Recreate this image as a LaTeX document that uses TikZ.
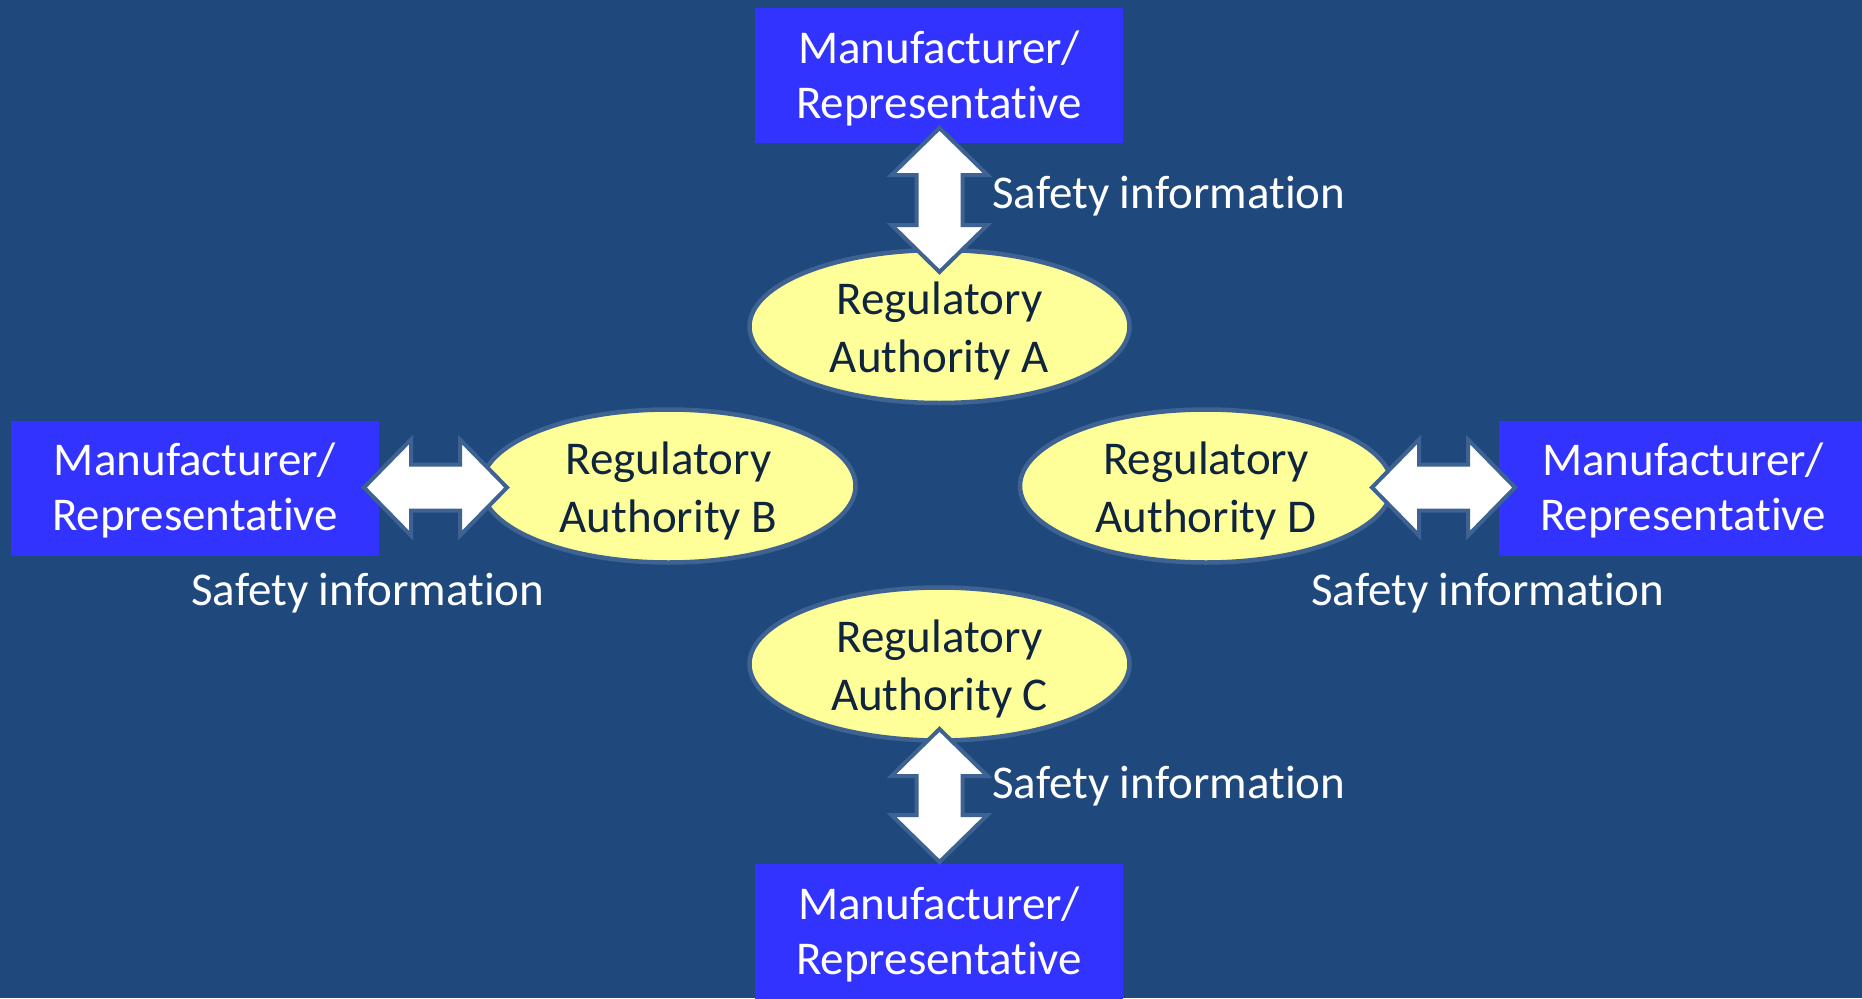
\documentclass[tikz,border=0pt]{standalone}
\usepackage{fontspec}
\setmainfont[Ligatures=NoCommon]{Carlito}
\usetikzlibrary{shapes.geometric}
\definecolor{bgblue}{HTML}{1F497D}
\definecolor{boxblue}{HTML}{3333FF}
\definecolor{ellfill}{HTML}{FFFF99}
\definecolor{outl}{HTML}{3E6291}
\definecolor{etext}{HTML}{0F243E}
\newcommand\toprule[1]{\rule{0pt}{#1}}
\newcommand\botrule{\rule[-12pt]{0pt}{12pt}}
\tikzset{
  mybox/.style={rectangle, fill=boxblue, text=white, minimum width=368pt, minimum height=135pt, inner sep=0pt, align=center, font=\fontsize{47}{55}\selectfont},
  authority/.style={ellipse, fill=ellfill, draw=outl, line width=4.5pt, minimum width=380pt, minimum height=153pt, inner xsep=0pt, inner ysep=-9pt, align=center, text=etext, font=\fontsize{47}{58}\selectfont},
  infolabel/.style={anchor=base west, text=white, inner sep=0pt, font=\fontsize{47}{55}\selectfont},
  pics/dblarrow/.style={code={
    \path[fill=white, draw=outl, line width=4pt]
      (-#1,0) -- ({-#1+47},-48) -- ({-#1+47},-23) -- ({#1-47},-23) -- ({#1-47},-48)
      -- (#1,0) -- ({#1-47},48) -- ({#1-47},23) -- ({-#1+47},23) -- ({-#1+47},48) -- cycle;
  }}
}
\begin{document}
\begin{tikzpicture}[x=1pt,y=-1pt]
\useasboundingbox (0,0) rectangle (1862,998);
\clip (0,0) rectangle (1862,998);
\fill[bgblue] (0,0) rectangle (1862,998);

% manufacturer boxes
\node[mybox] (topbox) at (939,75.5) {\toprule{42pt}Manufacturer/\\Representative\botrule};
\node[mybox] (leftbox) at (195,488) {\toprule{42pt}Manufacturer/\\Representative\botrule};
\node[mybox] (rightbox) at (1683,488) {\toprule{42pt}Manufacturer/\\Representative\botrule};
\node[mybox] (botbox) at (939,931.5) {\toprule{42pt}Manufacturer/\\Representative\botrule};

% authorities
\node[authority] (A) at (939.5,326.5) {\toprule{46pt}Regulatory\\Authority A\botrule};
\node[authority, minimum width=374pt] (B) at (668.5,486) {\toprule{46pt}Regulatory\\Authority B\botrule};
\node[authority, minimum width=372pt] (D) at (1206,486) {\toprule{46pt}Regulatory\\Authority D\botrule};
\node[authority] (C) at (939.5,664) {\toprule{46pt}Regulatory\\Authority C\botrule};

% block arrows
\coordinate (arrA) at (939.5,200);
\coordinate (arrB) at (435.5,487.5);
\coordinate (arrC) at (939.5,795.5);
\coordinate (arrD) at (1443.5,487.5);
\pic[rotate=-90] at (arrA) {dblarrow=72};
\pic at (arrB) {dblarrow=71.5};
\pic[rotate=-90] at (arrC) {dblarrow=66.5};
\pic at (arrD) {dblarrow=71.5};

% labels
\node[infolabel] (labA) at (992,208) {Safety information};
\node[infolabel] (labB) at (191,605) {Safety information};
\node[infolabel] (labD) at (1311,605) {Safety information};
\node[infolabel] (labC) at (992,798) {Safety information};
\end{tikzpicture}
\end{document}
